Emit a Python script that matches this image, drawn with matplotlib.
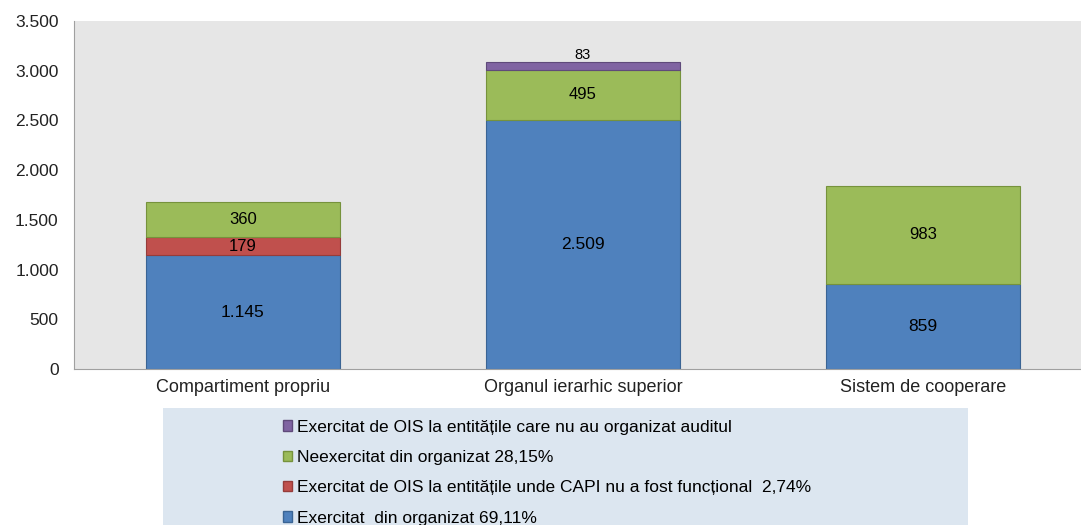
import matplotlib.pyplot as plt
from matplotlib.patches import Rectangle, Patch
import numpy as np

# categorii si valori (numar de misiuni)
categorii = ["Compartiment propriu", "Organul ierarhic superior", "Sistem de cooperare"]
exercitat = [1145, 2509, 859]
exercitat_ois_capi = [179, 0, 0]
neexercitat = [360, 495, 983]
exercitat_ois_neorg = [0, 83, 0]

etichete = [
    "Exercitat  din organizat 69,11%",
    "Exercitat de OIS la entitățile unde CAPI nu a fost funcțional  2,74%",
    "Neexercitat din organizat 28,15%",
    "Exercitat de OIS la entitățile care nu au organizat auditul",
]
culori = ["#4f81bd", "#c0504d", "#9bbb59", "#8064a2"]
margini = ["#3a6494", "#963c3a", "#76923c", "#5f4a7a"]

plt.rcParams['font.family'] = ['Liberation Sans', 'DejaVu Sans']

fig = plt.figure(figsize=(10.81, 5.25), dpi=100)
ax = fig.add_axes([74 / 1081, 156 / 525, 1 - 74 / 1081, 348 / 525])
ax.set_facecolor("#e6e6e6")

x = np.arange(len(categorii))
serii = [exercitat, exercitat_ois_capi, neexercitat, exercitat_ois_neorg]
baza = np.zeros(len(categorii))
for vals, c, m, lab in zip(serii, culori, margini, etichete):
    vals = np.array(vals, dtype=float)
    idx = vals > 0
    ax.bar(x[idx], vals[idx], 0.57, bottom=baza[idx], color=c, edgecolor=m,
           linewidth=0.8, label=lab)
    for i, v in enumerate(vals):
        if v <= 0:
            continue
        txt = f"{int(v):,}".replace(",", ".")
        if v < 120:
            ax.text(x[i], baza[i] + v + 5, txt, ha="center", va="bottom", fontsize=10.5)
        else:
            ax.text(x[i], baza[i] + v / 2, txt, ha="center", va="center",
                    fontsize=12.5 if v > 800 and c == culori[0] else 12)
    baza += vals

ax.set_ylim(0, 3500)
ax.set_xlim(-0.497, 2.465)
ax.set_yticks(range(0, 3501, 500))
ax.set_yticklabels([f"{v:,}".replace(",", ".") for v in range(0, 3501, 500)], fontsize=12.5)
ax.set_xticks(x)
ax.set_xticklabels(categorii, fontsize=13)
ax.tick_params(axis="y", length=0, pad=11, colors="#222222")
ax.tick_params(axis="x", length=0, pad=7, colors="#222222")
for s in ["top", "right"]:
    ax.spines[s].set_visible(False)
for s in ["left", "bottom"]:
    ax.spines[s].set_color("#a0a0a0")

# caseta legendei
fig.patches.append(Rectangle((163 / 1081, 0), 805 / 1081, 117 / 525,
                             transform=fig.transFigure, facecolor="#dce6f0",
                             edgecolor="none", zorder=0))
handles = [Patch(facecolor=c, edgecolor=m) for c, m in zip(culori, margini)][::-1]
fig.legend(handles, etichete[::-1], loc="upper left",
           bbox_to_anchor=(274 / 1081, 114 / 525), frameon=False, fontsize=12.5,
           handlelength=0.55, handleheight=0.55, handletextpad=0.25, labelspacing=0.88,
           borderpad=0)

fig.savefig("out.png", dpi=100)
